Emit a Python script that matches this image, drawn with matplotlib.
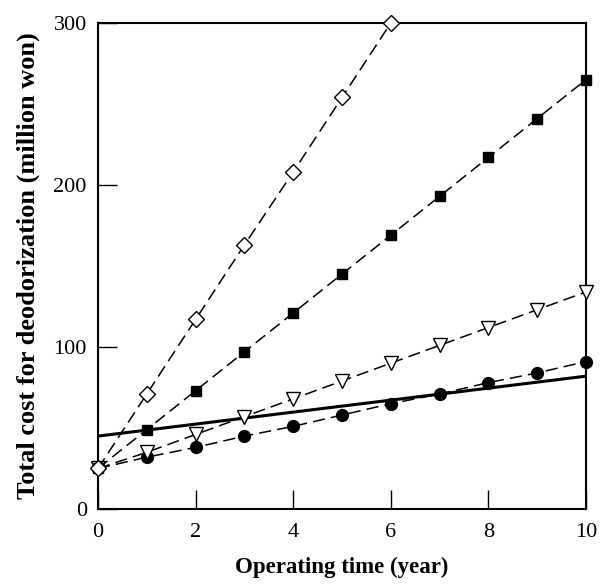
import matplotlib
matplotlib.use("Agg")
import matplotlib.pyplot as plt

plt.rcParams["font.family"] = ["Liberation Serif", "DejaVu Serif"]

# cost curves for each deodorization option (million won)
years_short = [0, 1, 2, 3, 4, 5, 6]
cost_diamond = [25, 71, 117, 163, 208, 254, 300]

years = [0, 1, 2, 3, 4, 5, 6, 7, 8, 9, 10]
cost_square = [25, 49, 73, 97, 121, 145, 169, 193, 217, 241, 265]
cost_triangle = [25, 35, 46, 57, 68, 79, 90, 101, 112, 123, 134]
cost_circle = [25, 32, 38, 45, 51, 58, 65, 71, 78, 84, 91]

solid_x = [0, 10]
solid_y = [45, 82]

fig = plt.figure(figsize=(6.0, 5.86), dpi=100)
ax = fig.add_axes([0.1633, 0.1314, 0.8134, 0.8294])

dash = (0, (8, 4))
ax.plot(solid_x, solid_y, color="black", lw=2.2, zorder=2)
ax.plot(years, cost_circle, color="black", lw=1.1, ls=dash,
        marker="o", ms=8.5, mfc="black", mec="black", zorder=3, clip_on=False)
ax.plot(years, cost_triangle, color="black", lw=1.1, ls=dash,
        marker="v", ms=10, mfc="white", mec="black", mew=1.0, zorder=3,
        clip_on=False)
ax.plot(years, cost_square, color="black", lw=1.1, ls=dash,
        marker="s", ms=7.5, mfc="black", mec="black", zorder=3, clip_on=False)
ax.plot(years_short, cost_diamond, color="black", lw=1.1, ls=dash,
        marker="D", ms=8.5, mfc="white", mec="black", mew=1.0, zorder=4,
        clip_on=False)

ax.set_xlim(0, 10)
ax.set_ylim(0, 300)
ax.set_xticks([0, 2, 4, 6, 8, 10])
ax.set_yticks([0, 100, 200, 300])
ax.tick_params(direction="in", length=14, width=1.0, labelsize=16,
               top=False, right=False)
ax.tick_params(axis="x", pad=10)
ax.tick_params(axis="y", pad=8)

for s in ax.spines.values():
    s.set_linewidth(1.5)

ax.set_xlabel("Operating time (year)", fontsize=16.5, fontweight="bold", labelpad=11)
ax.set_ylabel("Total cost for deodorization (million won)", fontsize=19,
              fontweight="bold", labelpad=10)

fig.savefig("out.png", dpi=100)
